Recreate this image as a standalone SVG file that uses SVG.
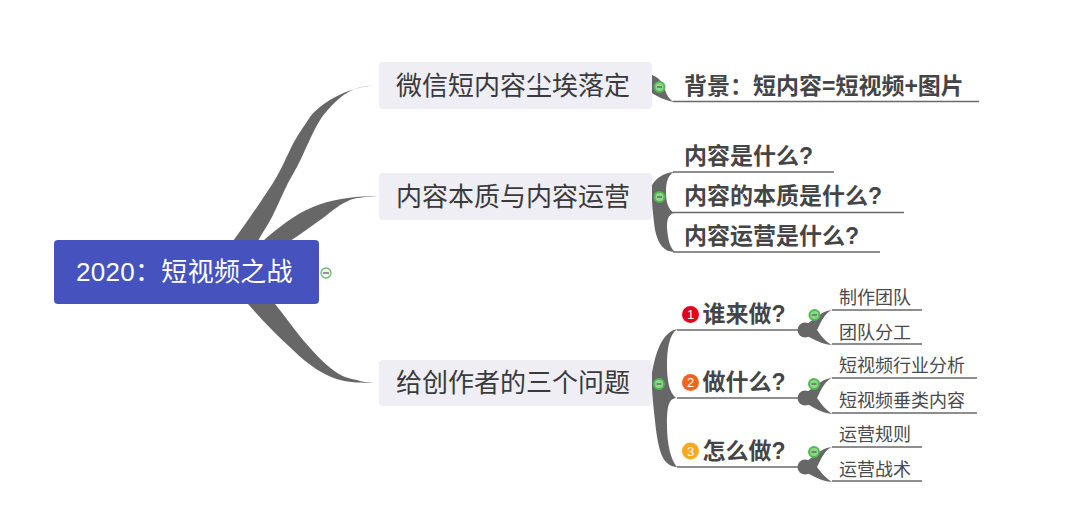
<svg xmlns="http://www.w3.org/2000/svg" width="1080" height="520" viewBox="0 0 1080 520">
<style>
text{font-family:"Liberation Sans","Noto Sans CJK SC",sans-serif}
.t1{font-size:26px;fill:#3a3a3c}
.t2{font-size:23px;font-weight:700;fill:#454547}
.t3{font-size:18px;fill:#4a4a4c}
.box{fill:#eeeef4}
.br{fill:#676767}
.ln{stroke:#6a6a6a;stroke-width:1.4;fill:none}
.tg{fill:#8fd88a;stroke:#4cbb50;stroke-width:2}
.tm{stroke:#555;stroke-width:1.2}
.num{font-size:13px;fill:#fff;text-anchor:middle}
</style>
<rect width="1080" height="520" fill="#fff"/>
<g id="connectors">
<path class="br" d="M233 241C245 225 262 200 273 183C280 172 285 160 290 150C297 135 305 125 310 117C320 104 345 87 378 85C362 86 355 88 347 93C338 98 330 107 322 117C315 127 310 140 305 150C300 162 294 172 288 183C282 195 278 205 272 217C268 225 262 233 258 241Z"/>
<path class="br" d="M263 241C285 222 298 213 313 207C330 200 350 196 378 196C362 197 355 198 350 200C340 204 332 211 323 218C312 226 302 233 290 241Z"/>
<path class="br" d="M248 304C262 320 276 335 293 350C308 365 325 376 340 380C352 383 365 383 378 383C368 383 362 382 357 380C345 378 340 375 333 370C320 360 312 350 303 340C293 328 285 316 275 304Z"/>
<path class="br" d="M652 75C660 78 664 84 665 90C667 96 670 100 674 102C664 100 658 97 652 93Z"/>
<path class="br" d="M652 185C657 177 664 173 674 172C668 175 666 182 666 192C666 202 668 209 674 213C668 215 667 219 667 228C668 240 670 248 675 252C663 252 658 243 655 230C653 215 651 200 652 185Z"/>
<path class="br" d="M652 373C656 350 663 332 677 329C669 335 667 350 667 365C667 380 669 392 676 398C669 399 667 405 667 425C667 445 671 460 677 467C662 466 659 450 656 430C654 410 651 390 652 373Z"/>
<g id="blobs">
<circle class="br" cx="805" cy="330" r="7.500"/><path class="br" d="M805 325C812 322 820 311 832 310C825 313 822 320 817 330C822 337 826 342 832 345C820 344 812 338 805 335Z"/>
<circle class="br" cx="805" cy="398" r="7.500"/><path class="br" d="M805 393C812 390 820 379 832 378C825 381 822 388 817 398C822 405 826 410 832 414C820 413 812 406 805 403Z"/>
<circle class="br" cx="805" cy="467" r="7.500"/><path class="br" d="M805 462C812 459 820 448 832 447C825 450 822 457 817 467C822 474 826 478 832 482C820 481 812 475 805 472Z"/>
</g>
<path class="ln" d="M673 101.500H979M673 172H834M673 212.500H904M673 252H880M677 330H800M677 398H800M677 467H800M832 310H922M832 344H922M832 378H977M832 413H977M832 447H922M832 481H922"/>
</g>
<g id="root"><rect x="54" y="240" width="265" height="64" rx="4" fill="#4652be"/><text x="76" y="281" font-size="26" letter-spacing=".3" fill="#fff">2020：短视频之战</text></g>
<g id="n1"><rect class="box" x="379" y="62" width="273" height="47" rx="4"/><text class="t1" x="396" y="95">微信短内容尘埃落定</text></g>
<g id="n2"><rect class="box" x="379" y="173" width="273" height="47" rx="4"/><text class="t1" x="396" y="206">内容本质与内容运营</text></g>
<g id="n3"><rect class="box" x="379" y="360" width="273" height="46" rx="4"/><text class="t1" x="396" y="392">给创作者的三个问题</text></g>
<g id="a1"><text class="t2" x="684" y="94">背景：短内容=短视频+图片</text></g>
<g id="b1"><text class="t2" x="684" y="164">内容是什么?</text></g>
<g id="b2"><text class="t2" x="684" y="204">内容的本质是什么?</text></g>
<g id="b3"><text class="t2" x="684" y="244">内容运营是什么?</text></g>
<g id="c1"><circle cx="690.500" cy="314.500" r="8.500" fill="#e3001b"/><text class="num" x="690.500" y="319">1</text><text class="t2" x="702.500" y="322">谁来做?</text></g>
<g id="c2"><circle cx="690.500" cy="382.500" r="8.500" fill="#f0651e"/><text class="num" x="690.500" y="387">2</text><text class="t2" x="702.500" y="390">做什么?</text></g>
<g id="c3"><circle cx="690.500" cy="451" r="8.500" fill="#f8a91f"/><text class="num" x="690.500" y="455.500">3</text><text class="t2" x="702.500" y="459">怎么做?</text></g>
<g id="d1"><text class="t3" x="839" y="304">制作团队</text></g>
<g id="d2"><text class="t3" x="839" y="339">团队分工</text></g>
<g id="d3"><text class="t3" x="839" y="372">短视频行业分析</text></g>
<g id="d4"><text class="t3" x="839" y="407">短视频垂类内容</text></g>
<g id="d5"><text class="t3" x="839" y="441">运营规则</text></g>
<g id="d6"><text class="t3" x="839" y="476">运营战术</text></g>
<g id="toggles">
<circle cx="326" cy="273" r="5" fill="#f4fbf3" stroke="#66bb66" stroke-width="1.300"/><path class="tm" d="M323 273H329"/>
<circle class="tg" cx="659.500" cy="87" r="5"/><path class="tm" d="M657 87H662"/>
<circle class="tg" cx="659.500" cy="197" r="5"/><path class="tm" d="M657 197H662"/>
<circle class="tg" cx="659" cy="384" r="5"/><path class="tm" d="M656.500 384H661.500"/>
<circle class="tg" cx="814.500" cy="315" r="5"/><path class="tm" d="M812 315H817"/>
<circle class="tg" cx="814" cy="384" r="5"/><path class="tm" d="M811.500 384H816.500"/>
<circle class="tg" cx="814" cy="452" r="5"/><path class="tm" d="M811.500 452H816.500"/>
</g>
</svg>
